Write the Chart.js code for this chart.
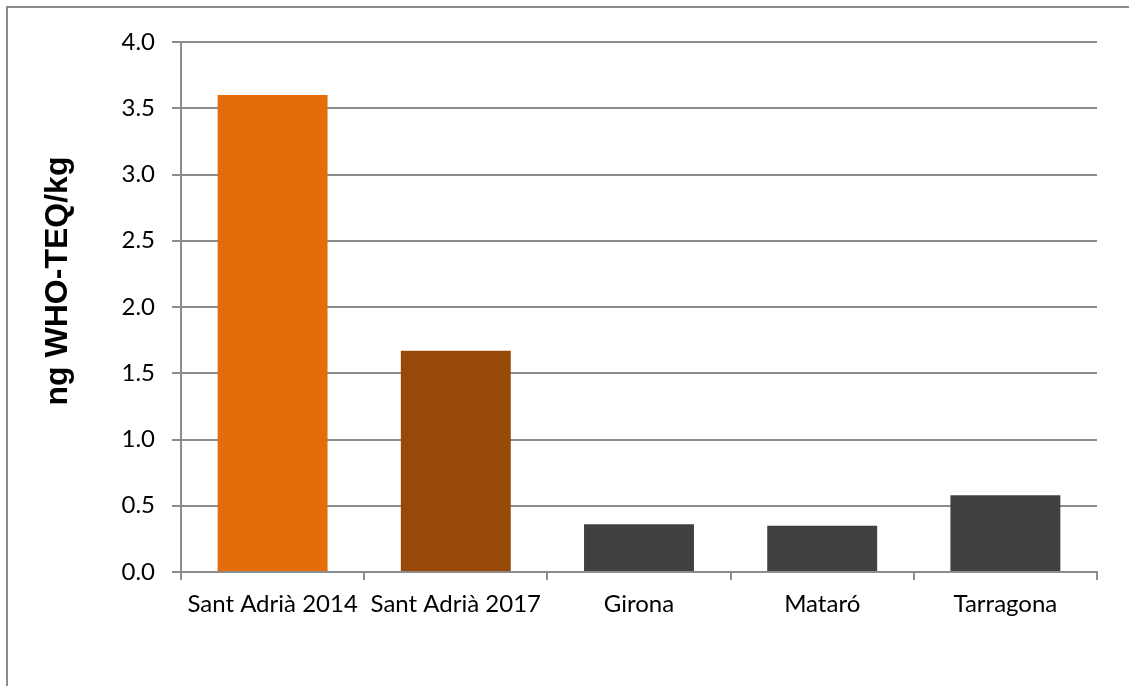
<!DOCTYPE html>
<html>
<head>
<meta charset="utf-8">
<script src="https://cdn.jsdelivr.net/npm/chart.js@4/dist/chart.umd.min.js"></script>
<style>
    body { margin: 0; background: #fff; }
    #cadre {
        position: absolute; left: 6px; top: 6px;
        width: 1121px; height: 678px;
        border-left: 2px solid #8c8c8c; border-top: 2px solid #8c8c8c;
    }
</style>
</head>
<body>
<div id="cadre"><canvas id="unGraphique"></canvas></div>
<script>
// données
const categories = ['Sant Adrià 2014', 'Sant Adrià 2017', 'Girona', 'Mataró', 'Tarragona'];
const valeurs = [3.60, 1.67, 0.36, 0.35, 0.58];
const couleurs = ['#e46c0a', '#984807', '#404040', '#404040', '#404040'];
const titreAxeY = 'ng WHO-TEQ/kg';
const yMin = 0, yMax = 4, yPas = 0.5;

const gris = '#8c8c8c';

// titre vertical de l'axe y
const titreY = {
    id: 'titreY',
    afterDraw(chart) {
        const ctx = chart.ctx;
        ctx.save();
        ctx.translate(50, 273);
        ctx.rotate(-Math.PI / 2);
        ctx.font = 'bold 32px "Liberation Sans", Arial, sans-serif';
        ctx.fillStyle = '#000';
        ctx.textAlign = 'center';
        ctx.textBaseline = 'middle';
        ctx.fillText(titreAxeY, 0, 0);
        ctx.restore();
    }
};

const canvas = document.getElementById('unGraphique');
canvas.style.width = '1121px';
canvas.style.height = '678px';

new Chart(canvas.getContext('2d'), {
    type: 'bar',
    data: {
        labels: categories,
        datasets: [{
            data: valeurs,
            backgroundColor: couleurs,
            borderWidth: 0,
            barPercentage: 0.6,
            categoryPercentage: 1.0
        }]
    },
    options: {
        responsive: false,
        animation: false,
        layout: { padding: { top: 34, right: 32, bottom: 0, left: 0 } },
        plugins: { legend: { display: false }, tooltip: { enabled: false } },
        scales: {
            x: {
                offset: true,
                grid: {
                    offset: true,
                    drawOnChartArea: false,
                    drawTicks: true,
                    tickLength: 8,
                    color: gris,
                    lineWidth: 2
                },
                border: { color: gris, width: 2 },
                ticks: {
                    color: '#000',
                    padding: 10,
                    maxRotation: 0,
                    font: { family: 'Lato, "Liberation Sans", sans-serif', size: 24 }
                },
                afterFit(scale) { scale.height = 114; }
            },
            y: {
                min: yMin,
                max: yMax,
                grid: {
                    color: gris,
                    lineWidth: 2,
                    drawTicks: true,
                    tickLength: 9
                },
                border: { color: gris, width: 2 },
                ticks: {
                    stepSize: yPas,
                    color: '#000',
                    padding: 17,
                    font: { family: 'Lato, "Liberation Sans", sans-serif', size: 24 },
                    callback: v => Number(v).toFixed(1)
                },
                afterFit(scale) { scale.width = 173; }
            }
        }
    },
    plugins: [titreY]
});
</script>
</body>
</html>
